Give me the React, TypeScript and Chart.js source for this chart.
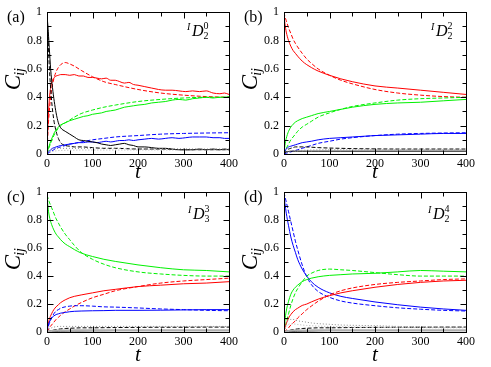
import React, { useEffect, useRef } from 'react';
import { Chart, registerables } from 'chart.js';
Chart.register(...registerables);

// ---------- time grids ----------
const T = [0, 2, 5, 10, 15, 20, 25, 30, 40, 50, 60, 75, 100, 125, 150, 200, 250, 300, 350, 400];
const TA = [0, 2, 5, 8, 12, 16, 20, 25, 30, 40, 50, 60, 70, 80, 90, 100, 110, 120, 130, 140, 150, 160, 170, 180, 190, 200, 215, 230, 245, 260, 275, 290, 305, 320, 335, 350, 365, 380, 390, 400];

// ---------- tick values ----------
const X_TICKS = [0, 50, 100, 150, 200, 250, 300, 350, 400];
const Y_TICKS = [0, 0.1, 0.2, 0.3, 0.4, 0.5, 0.6, 0.7, 0.8, 0.9, 1];
const Y_LABELS: Record<string, string> = { '0': '0', '0.2': '0.2', '0.4': '0.4', '0.6': '0.6', '0.8': '0.8', '1': '1' };

// ---------- panel (a) ----------
const A_RED_SOLID = [0, 0.2, 0.38, 0.47, 0.52, 0.54, 0.55, 0.555, 0.56, 0.56, 0.555, 0.56, 0.55, 0.55, 0.54, 0.54, 0.535, 0.53, 0.535, 0.52, 0.52, 0.51, 0.5, 0.505, 0.49, 0.485, 0.475, 0.465, 0.455, 0.45, 0.45, 0.445, 0.44, 0.445, 0.44, 0.445, 0.43, 0.425, 0.43, 0.42];
const A_GREEN_SOLID = [0, 0.03, 0.06, 0.09, 0.12, 0.15, 0.17, 0.19, 0.205, 0.22, 0.235, 0.245, 0.255, 0.265, 0.27, 0.28, 0.285, 0.29, 0.3, 0.305, 0.31, 0.32, 0.33, 0.335, 0.34, 0.345, 0.35, 0.36, 0.365, 0.37, 0.38, 0.385, 0.38, 0.39, 0.395, 0.4, 0.395, 0.4, 0.4, 0.405];
const A_BLUE_SOLID = [0, 0.01, 0.02, 0.03, 0.04, 0.045, 0.05, 0.055, 0.06, 0.065, 0.07, 0.075, 0.08, 0.08, 0.085, 0.085, 0.08, 0.085, 0.09, 0.085, 0.09, 0.095, 0.095, 0.1, 0.095, 0.1, 0.105, 0.11, 0.105, 0.11, 0.115, 0.11, 0.115, 0.12, 0.12, 0.12, 0.115, 0.115, 0.11, 0.11];
const A_BLACK_SOLID = [0.98, 0.9, 0.75, 0.6, 0.47, 0.37, 0.29, 0.22, 0.185, 0.16, 0.14, 0.12, 0.1, 0.095, 0.09, 0.085, 0.08, 0.07, 0.065, 0.06, 0.065, 0.07, 0.075, 0.065, 0.06, 0.05, 0.05, 0.045, 0.04, 0.04, 0.035, 0.03, 0.03, 0.03, 0.035, 0.03, 0.035, 0.03, 0.035, 0.03];
const A_RED_DASH = [0, 0.15, 0.3, 0.45, 0.53, 0.58, 0.61, 0.63, 0.645, 0.635, 0.62, 0.59, 0.545, 0.51, 0.49, 0.455, 0.43, 0.415, 0.405, 0.4];
const A_GREEN_DASH = [0, 0.02, 0.05, 0.09, 0.13, 0.16, 0.18, 0.2, 0.22, 0.24, 0.26, 0.285, 0.31, 0.33, 0.345, 0.37, 0.385, 0.395, 0.4, 0.4];
const A_BLUE_DASH = [0, 0.005, 0.01, 0.02, 0.03, 0.04, 0.045, 0.05, 0.06, 0.07, 0.075, 0.085, 0.1, 0.11, 0.12, 0.13, 0.14, 0.145, 0.148, 0.15];
const A_BLACK_DASH = [1, 0.85, 0.62, 0.38, 0.24, 0.16, 0.11, 0.08, 0.06, 0.055, 0.05, 0.05, 0.045, 0.04, 0.04, 0.035, 0.035, 0.03, 0.03, 0.03];
const A_GRAY_DOT = [0, 0.01, 0.02, 0.03, 0.035, 0.04, 0.04, 0.04, 0.04, 0.04, 0.04, 0.04, 0.04, 0.04, 0.04, 0.038, 0.037, 0.036, 0.035, 0.035];
const A_GRAY_DOT2 = [0, 0.005, 0.01, 0.015, 0.02, 0.022, 0.024, 0.025, 0.026, 0.027, 0.027, 0.028, 0.028, 0.028, 0.028, 0.028, 0.028, 0.028, 0.028, 0.028];

// ---------- panel (b) ----------
const B_RED_SOLID = [0.98, 0.92, 0.86, 0.8, 0.76, 0.73, 0.71, 0.69, 0.655, 0.63, 0.61, 0.585, 0.555, 0.53, 0.51, 0.48, 0.465, 0.45, 0.435, 0.42];
const B_RED_DASH = [1, 0.97, 0.94, 0.89, 0.85, 0.81, 0.78, 0.755, 0.71, 0.67, 0.64, 0.6, 0.555, 0.52, 0.495, 0.455, 0.43, 0.415, 0.405, 0.4];
const B_GREEN_SOLID = [0, 0.06, 0.11, 0.16, 0.19, 0.21, 0.225, 0.235, 0.25, 0.26, 0.27, 0.285, 0.3, 0.315, 0.33, 0.35, 0.36, 0.365, 0.375, 0.385];
const B_GREEN_DASH = [0, 0.02, 0.04, 0.07, 0.1, 0.12, 0.14, 0.16, 0.19, 0.21, 0.23, 0.26, 0.29, 0.315, 0.335, 0.36, 0.38, 0.39, 0.395, 0.4];
const B_BLUE_SOLID = [0, 0.02, 0.035, 0.05, 0.055, 0.06, 0.065, 0.07, 0.08, 0.085, 0.09, 0.1, 0.11, 0.115, 0.12, 0.13, 0.135, 0.14, 0.145, 0.145];
const B_BLUE_DASH = [0, 0.003, 0.006, 0.01, 0.015, 0.02, 0.025, 0.03, 0.04, 0.05, 0.06, 0.075, 0.09, 0.105, 0.115, 0.13, 0.14, 0.145, 0.148, 0.15];
const B_BLACK_DASH = [0, 0.01, 0.02, 0.035, 0.04, 0.045, 0.05, 0.05, 0.05, 0.05, 0.048, 0.045, 0.042, 0.04, 0.038, 0.036, 0.035, 0.035, 0.035, 0.035];
const B_BLACK_SOLID = [0, 0.008, 0.014, 0.018, 0.02, 0.02, 0.02, 0.02, 0.02, 0.02, 0.02, 0.02, 0.02, 0.02, 0.02, 0.02, 0.02, 0.02, 0.02, 0.02];
const B_GRAY_DOT = [0, 0.005, 0.01, 0.015, 0.02, 0.022, 0.024, 0.025, 0.026, 0.027, 0.028, 0.029, 0.03, 0.03, 0.03, 0.03, 0.03, 0.03, 0.03, 0.03];

// ---------- panel (c) ----------
const C_GREEN_SOLID = [0.98, 0.9, 0.83, 0.77, 0.73, 0.7, 0.68, 0.66, 0.63, 0.61, 0.59, 0.565, 0.54, 0.52, 0.505, 0.48, 0.46, 0.445, 0.44, 0.43];
const C_GREEN_DASH = [0.98, 0.96, 0.93, 0.89, 0.85, 0.81, 0.78, 0.75, 0.7, 0.66, 0.62, 0.57, 0.52, 0.485, 0.46, 0.43, 0.415, 0.405, 0.4, 0.4];
const C_RED_SOLID = [0, 0.05, 0.09, 0.13, 0.16, 0.18, 0.195, 0.21, 0.23, 0.245, 0.255, 0.265, 0.28, 0.295, 0.305, 0.325, 0.335, 0.345, 0.35, 0.36];
const C_RED_DASH = [0, 0.01, 0.03, 0.05, 0.07, 0.09, 0.105, 0.12, 0.145, 0.165, 0.185, 0.21, 0.245, 0.27, 0.295, 0.325, 0.35, 0.365, 0.375, 0.385];
const C_BLUE_SOLID = [0, 0.04, 0.07, 0.1, 0.115, 0.125, 0.13, 0.135, 0.14, 0.145, 0.148, 0.15, 0.152, 0.153, 0.155, 0.155, 0.156, 0.158, 0.16, 0.16];
const C_BLUE_DASH = [0, 0.03, 0.06, 0.1, 0.13, 0.15, 0.16, 0.17, 0.18, 0.185, 0.188, 0.188, 0.185, 0.18, 0.178, 0.172, 0.165, 0.16, 0.155, 0.152];
const C_GRAY_DOT = [0, 0.01, 0.02, 0.03, 0.035, 0.038, 0.04, 0.04, 0.04, 0.04, 0.04, 0.04, 0.04, 0.04, 0.04, 0.04, 0.04, 0.04, 0.04, 0.04];
const C_BLACK_DASH = [0, 0.003, 0.006, 0.01, 0.014, 0.017, 0.02, 0.022, 0.025, 0.027, 0.028, 0.03, 0.03, 0.031, 0.032, 0.033, 0.034, 0.034, 0.035, 0.035];
const C_BLACK_SOLID = [0, 0.002, 0.003, 0.004, 0.005, 0.006, 0.006, 0.007, 0.007, 0.008, 0.008, 0.008, 0.009, 0.009, 0.01, 0.01, 0.01, 0.01, 0.01, 0.01];
const C_GRAY_BAND = [0, 0.004, 0.006, 0.008, 0.009, 0.01, 0.01, 0.01, 0.011, 0.011, 0.012, 0.012, 0.012, 0.012, 0.012, 0.012, 0.012, 0.012, 0.012, 0.012];

// ---------- panel (d) ----------
const D_BLUE_SOLID = [0.97, 0.92, 0.85, 0.76, 0.68, 0.62, 0.57, 0.52, 0.45, 0.4, 0.36, 0.32, 0.28, 0.255, 0.24, 0.215, 0.195, 0.178, 0.165, 0.155];
const D_BLUE_DASH = [1, 0.97, 0.93, 0.86, 0.79, 0.72, 0.65, 0.59, 0.48, 0.395, 0.34, 0.29, 0.248, 0.222, 0.207, 0.188, 0.173, 0.163, 0.155, 0.15];
const D_GREEN_SOLID = [0, 0.08, 0.15, 0.22, 0.27, 0.3, 0.32, 0.335, 0.36, 0.375, 0.385, 0.395, 0.405, 0.41, 0.415, 0.42, 0.43, 0.44, 0.435, 0.43];
const D_GREEN_DASH = [0, 0.03, 0.07, 0.13, 0.19, 0.24, 0.28, 0.31, 0.36, 0.4, 0.42, 0.44, 0.45, 0.445, 0.44, 0.425, 0.41, 0.4, 0.4, 0.4];
const D_RED_SOLID = [0, 0.03, 0.06, 0.1, 0.125, 0.145, 0.16, 0.17, 0.19, 0.2, 0.215, 0.235, 0.26, 0.28, 0.295, 0.32, 0.34, 0.355, 0.365, 0.37];
const D_RED_DASH = [0, 0.005, 0.015, 0.03, 0.05, 0.065, 0.08, 0.1, 0.13, 0.16, 0.185, 0.22, 0.265, 0.295, 0.315, 0.34, 0.355, 0.365, 0.375, 0.38];
const D_GRAY_DOT = [0, 0.04, 0.07, 0.085, 0.09, 0.09, 0.085, 0.08, 0.075, 0.07, 0.065, 0.06, 0.055, 0.05, 0.048, 0.045, 0.04, 0.038, 0.035, 0.035];
const D_GRAY_DOT2 = [0, 0.02, 0.04, 0.055, 0.058, 0.058, 0.056, 0.054, 0.05, 0.047, 0.045, 0.042, 0.04, 0.038, 0.036, 0.034, 0.032, 0.031, 0.03, 0.03];
const D_BLACK_DASH = [0, 0.003, 0.006, 0.01, 0.014, 0.017, 0.02, 0.022, 0.025, 0.027, 0.028, 0.03, 0.03, 0.031, 0.032, 0.033, 0.034, 0.034, 0.035, 0.035];
const D_BLACK_SOLID = [0, 0.001, 0.002, 0.003, 0.004, 0.005, 0.005, 0.006, 0.007, 0.008, 0.008, 0.009, 0.01, 0.01, 0.01, 0.01, 0.01, 0.01, 0.01, 0.01];
const D_GRAY_BAND = [0, 0.004, 0.006, 0.008, 0.009, 0.01, 0.01, 0.01, 0.011, 0.011, 0.012, 0.012, 0.012, 0.012, 0.012, 0.012, 0.012, 0.012, 0.012, 0.012];

// ---------- styles ----------
const RED = '#ff0000';
const GREEN = '#00f000';
const BLUE = '#0000ff';
const BLACK = '#000000';
const GRAY = '#8a8a8a';
const LGRAY = '#b0b0b0';
const DASH = [4, 2];
const DOT = [1, 2];
const SERIF = "'Liberation Serif'";

type Ser = { t: number[]; v: number[]; c: string; d?: number[]; w?: number };

function ds(s: Ser) {
  return {
    data: s.t.map((x, i) => ({ x, y: s.v[i] })),
    borderColor: s.c,
    borderDash: s.d || [],
    borderWidth: s.w || 1,
    pointRadius: 0,
    fill: false,
    cubicInterpolationMode: 'monotone' as const,
  };
}

type PanelCfg = {
  left: number; top: number; h: number; xh: number;
  label: string; sup: string; sub: string; annX: number; annY: number;
  series: Ser[];
};

const PANELS: PanelCfg[] = [
  {
    left: 0, top: 0, h: 180, xh: 26, label: '(a)', sup: '0', sub: '2', annX: 140, annY: 24,
    series: [
      { t: T, v: A_GRAY_DOT, c: GRAY, d: DOT },
      { t: T, v: A_GRAY_DOT2, c: LGRAY, d: DOT },
      { t: T, v: A_BLACK_DASH, c: BLACK, d: DASH },
      { t: TA, v: A_BLACK_SOLID, c: BLACK },
      { t: T, v: A_BLUE_DASH, c: BLUE, d: DASH },
      { t: TA, v: A_BLUE_SOLID, c: BLUE },
      { t: T, v: A_GREEN_DASH, c: GREEN, d: DASH },
      { t: TA, v: A_GREEN_SOLID, c: GREEN },
      { t: T, v: A_RED_DASH, c: RED, d: DASH },
      { t: TA, v: A_RED_SOLID, c: RED },
    ],
  },
  {
    left: 237, top: 0, h: 180, xh: 26, label: '(b)', sup: '2', sub: '2', annX: 147, annY: 24,
    series: [
      { t: T, v: B_GRAY_DOT, c: GRAY, d: DOT },
      { t: T, v: B_BLACK_SOLID, c: BLACK },
      { t: T, v: B_BLACK_DASH, c: BLACK, d: DASH },
      { t: T, v: B_BLUE_DASH, c: BLUE, d: DASH },
      { t: T, v: B_BLUE_SOLID, c: BLUE },
      { t: T, v: B_GREEN_DASH, c: GREEN, d: DASH },
      { t: T, v: B_GREEN_SOLID, c: GREEN },
      { t: T, v: B_RED_DASH, c: RED, d: DASH },
      { t: T, v: B_RED_SOLID, c: RED },
    ],
  },
  {
    left: 0, top: 180, h: 183, xh: 31, label: '(c)', sup: '3', sub: '3', annX: 141, annY: 27,
    series: [
      { t: T, v: C_GRAY_BAND, c: LGRAY, w: 2 },
      { t: T, v: C_GRAY_DOT, c: GRAY, d: DOT },
      { t: T, v: C_BLACK_SOLID, c: BLACK },
      { t: T, v: C_BLACK_DASH, c: BLACK, d: DASH },
      { t: T, v: C_BLUE_DASH, c: BLUE, d: DASH },
      { t: T, v: C_BLUE_SOLID, c: BLUE },
      { t: T, v: C_RED_DASH, c: RED, d: DASH },
      { t: T, v: C_RED_SOLID, c: RED },
      { t: T, v: C_GREEN_DASH, c: GREEN, d: DASH },
      { t: T, v: C_GREEN_SOLID, c: GREEN },
    ],
  },
  {
    left: 237, top: 180, h: 183, xh: 31, label: '(d)', sup: '4', sub: '2', annX: 144, annY: 27,
    series: [
      { t: T, v: D_GRAY_BAND, c: LGRAY, w: 2 },
      { t: T, v: D_GRAY_DOT, c: GRAY, d: DOT },
      { t: T, v: D_GRAY_DOT2, c: LGRAY, d: DOT },
      { t: T, v: D_BLACK_SOLID, c: BLACK },
      { t: T, v: D_BLACK_DASH, c: BLACK, d: DASH },
      { t: T, v: D_RED_DASH, c: RED, d: DASH },
      { t: T, v: D_RED_SOLID, c: RED },
      { t: T, v: D_GREEN_DASH, c: GREEN, d: DASH },
      { t: T, v: D_GREEN_SOLID, c: GREEN },
      { t: T, v: D_BLUE_DASH, c: BLUE, d: DASH },
      { t: T, v: D_BLUE_SOLID, c: BLUE },
    ],
  },
];

function decoPlugin(p: PanelCfg) {
  return {
    id: 'deco',
    afterDraw(chart: any) {
      const { ctx, chartArea: a, scales } = chart;
      const xs = scales.x;
      const ys = scales.y;
      ctx.save();
      ctx.strokeStyle = '#000';
      ctx.lineWidth = 1;
      ctx.setLineDash([]);
      const L = Math.round(a.left) + 0.5;
      const R = Math.round(a.right) + 0.5;
      const TP = Math.round(a.top) + 0.5;
      const B = Math.round(a.bottom) + 0.5;
      ctx.strokeRect(L, TP, R - L, B - TP);
      ctx.beginPath();
      for (const v of X_TICKS) {
        const px = Math.round(xs.getPixelForValue(v)) + 0.5;
        const len = v % 100 === 0 ? 6 : 4;
        ctx.moveTo(px, B); ctx.lineTo(px, B - len);
        ctx.moveTo(px, TP); ctx.lineTo(px, TP + len);
      }
      Y_TICKS.forEach((v, i) => {
        const py = Math.round(ys.getPixelForValue(v)) + 0.5;
        const len = i % 2 === 0 ? 6 : 4;
        ctx.moveTo(L, py); ctx.lineTo(L + len, py);
        ctx.moveTo(R, py); ctx.lineTo(R - len, py);
      });
      ctx.stroke();

      ctx.fillStyle = '#000';
      ctx.font = `16px ${SERIF}`;
      ctx.textBaseline = 'middle';
      ctx.textAlign = 'left';
      ctx.fillText(p.label, a.left - 40, a.top + 6);

      ctx.save();
      ctx.translate(a.left - 27, a.top + 78);
      ctx.rotate(-Math.PI / 2);
      ctx.textBaseline = 'alphabetic';
      ctx.font = `italic 23px ${SERIF}`;
      ctx.fillText('C', 0, 0);
      const cw = ctx.measureText('C').width;
      ctx.font = `italic 14px ${SERIF}`;
      ctx.fillText('ij', cw - 1, 4);
      ctx.restore();

      ctx.font = `italic 21px ${SERIF}`;
      ctx.textAlign = 'center';
      ctx.textBaseline = 'alphabetic';
      ctx.fillText('t', (a.left + a.right) / 2, chart.height - 2);

      ctx.textAlign = 'left';
      const ax = a.left + p.annX;
      const ay = a.top + p.annY;
      ctx.font = `italic 10px ${SERIF}`;
      ctx.fillText('I', ax, ay - 6);
      ctx.font = `italic 16px ${SERIF}`;
      ctx.fillText('D', ax + 5, ay);
      const dw = ctx.measureText('D').width;
      ctx.font = `10px ${SERIF}`;
      ctx.fillText(p.sup, ax + 5 + dw, ay - 7);
      ctx.fillText(p.sub, ax + 5 + dw, ay + 3);
      ctx.restore();
    },
  };
}

function Panel({ p }: { p: PanelCfg }) {
  const ref = useRef<HTMLCanvasElement | null>(null);
  useEffect(() => {
    if (!ref.current) return;
    const chart = new Chart(ref.current, {
      type: 'line',
      data: { datasets: p.series.map(ds) as any },
      options: {
        animation: false,
        responsive: false,
        maintainAspectRatio: false,
        layout: { padding: { top: 12, right: 16, left: 0, bottom: 0 } },
        plugins: { legend: { display: false }, tooltip: { enabled: false } },
        scales: {
          x: {
            type: 'linear', min: 0, max: 400,
            grid: { display: false, drawTicks: false },
            border: { display: false },
            ticks: { stepSize: 100, padding: 3, color: '#000', font: { family: SERIF, size: 12 }, maxRotation: 0 },
            afterFit: (s: any) => { s.height = p.xh; },
          },
          y: {
            type: 'linear', min: 0, max: 1,
            grid: { display: false, drawTicks: false },
            border: { display: false },
            ticks: {
              stepSize: 0.2, padding: 5, color: '#000', font: { family: SERIF, size: 12 },
              callback: (v: any) => Y_LABELS[String(Math.round(Number(v) * 10) / 10)] ?? '',
            },
            afterFit: (s: any) => { s.width = 47; },
          },
        },
      } as any,
      plugins: [decoPlugin(p)],
    });
    const redraw = () => { try { chart.update(); } catch (e) { /* ignore */ } };
    const fs = (document as any).fonts;
    if (fs && fs.load) {
      Promise.all([fs.load(`12px ${SERIF}`), fs.load(`italic 12px ${SERIF}`)]).then(redraw, () => {});
      if (fs.ready) fs.ready.then(redraw);
    }
    const t1 = setTimeout(redraw, 50);
    const t2 = setTimeout(redraw, 250);
    return () => { clearTimeout(t1); clearTimeout(t2); chart.destroy(); };
  }, [p]);
  return (
    <canvas
      ref={ref}
      width={245}
      height={p.h}
      style={{ position: 'absolute', left: p.left, top: p.top, width: 245, height: p.h }}
    />
  );
}

export default function App() {
  return (
    <div style={{ position: 'fixed', left: 0, top: 0, width: 491, height: 367, background: '#fff', fontFamily: 'Liberation Serif' }}>
      <span style={{ position: 'absolute', left: 2, top: 2, color: 'rgba(0,0,0,0)', fontSize: 12 }}>0</span>
      <span style={{ position: 'absolute', left: 2, top: 2, color: 'rgba(0,0,0,0)', fontSize: 12, fontStyle: 'italic' }}>C</span>
      {PANELS.map((p, i) => <Panel key={i} p={p} />)}
    </div>
  );
}
